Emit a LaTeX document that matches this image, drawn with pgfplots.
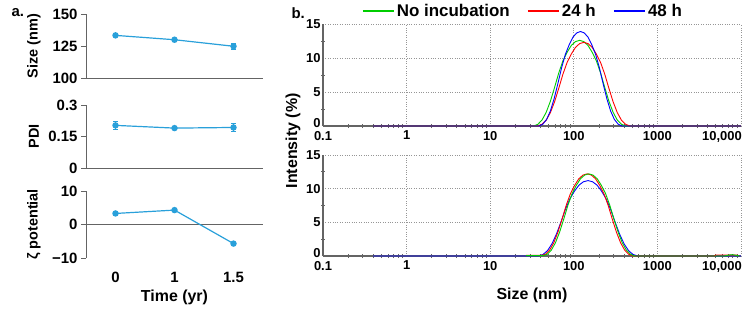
\documentclass[border=0pt]{standalone}
\usepackage{pgfplots}
\pgfplotsset{compat=1.18}
\usepackage{fontspec}
\setmainfont{Liberation Sans}
\definecolor{ptblue}{RGB}{41,160,218}
\definecolor{cgreen}{RGB}{0,205,0}
\definecolor{cred}{RGB}{255,0,0}
\definecolor{cblue}{RGB}{0,0,255}
\definecolor{axgray}{RGB}{100,100,100}
\definecolor{gridgray}{RGB}{150,150,150}
\newcommand{\fs}[1]{\fontsize{#1}{#1}\selectfont\bfseries}

\pgfplotsset{
  pa/.style={
    scale only axis, width=177bp,
    xmin=-0.5, xmax=2.5,
    axis x line*=bottom, axis y line*=left,
    axis line style={axgray, line width=1bp, -},
    xtick=\empty,
    tick align=outside, major tick length=5bp,
    tick style={axgray, line width=1bp},
    /pgf/number format/assume math mode=true,
    tick label style={font=\fs{15}},
    ylabel style={font=\fs{14.5}, at={(axis description cs:0,0.5)}, anchor=center, yshift=52bp},
    clip=false,
  },
  pser/.style={color=ptblue, line width=1.2bp, mark=*, mark size=2.6bp,
    mark options={fill=ptblue, draw=ptblue},
    error bars/.cd, y dir=both, y explicit,
    error bar style={ptblue, line width=0.8bp},
    error mark options={rotate=90, mark size=2.5bp, ptblue, line width=0.8bp}},
  pb/.style={
    scale only axis, width=418bp,
    xmin=-1, xmax=4, ymin=0, ymax=15,
    axis x line*=bottom, axis y line*=left,
    axis line style={axgray, line width=1.2bp, -},
    grid=major, grid style={dotted, gridgray, line width=0.9bp},
    xtick={-1,0,1,2,3,4},
    xticklabels={0.1,1,10,100,1000,{\hspace*{-38bp}10,000}},
    minor xtick={-0.699,-0.523,-0.398,-0.301,-0.222,-0.155,-0.097,-0.046,
      0.301,0.477,0.602,0.699,0.778,0.845,0.903,0.954,
      1.301,1.477,1.602,1.699,1.778,1.845,1.903,1.954,
      2.301,2.477,2.602,2.699,2.778,2.845,2.903,2.954,
      3.301,3.477,3.602,3.699,3.778,3.845,3.903,3.954},
    ytick={0,5,10,15}, yticklabels={\raisebox{7bp}{0},5,10,15},
    minor ytick={2.5,7.5,12.5},
    tick align=center, major tick length=0bp, minor tick length=4bp,
    tick style={axgray, line width=0.9bp},
    /pgf/number format/assume math mode=true,
    tick label style={font=\fs{13}},
    xticklabel style={yshift=-1.5bp},
    yticklabel style={xshift=1bp},
    clip=false,
  },
  gline/.style={color=cgreen, line width=0.9bp},
  rline/.style={color=cred, line width=0.9bp},
  bline/.style={color=cblue, line width=0.9bp},
}

\begin{document}
\begin{tikzpicture}
\useasboundingbox (0bp,0bp) rectangle (748bp,-310bp);

\node[anchor=west, font=\fs{15}] at (8bp,-13bp) {a.};
\node[anchor=west, font=\fs{15}] at (288bp,-13bp) {b.};

% ---------- Panel a: size ----------
\begin{axis}[pa, at={(86bp,-78bp)}, anchor=south west, height=64bp,
  ymin=100, ymax=150, ytick={100,125,150}, ylabel={Size (nm)}]
\addplot+[pser] coordinates {(0,133.3) +- (0,0.8) (1,129.9) +- (0,0.8) (2,124.8) +- (0,2.2)};
\end{axis}

% ---------- Panel a: PDI ----------
\begin{axis}[pa, at={(86bp,-168bp)}, anchor=south west, height=63bp,
  ymin=0, ymax=0.3, ytick={0,0.15,0.3}, yticklabels={0,0.15,0.3}, ylabel={PDI}]
\addplot+[pser] coordinates {(0,0.203) +- (0,0.018) (1,0.190) +- (0,0.007) (2,0.193) +- (0,0.02)};
\end{axis}

% ---------- Panel a: zeta ----------
\begin{axis}[pa, at={(86bp,-258bp)}, anchor=south west, height=67bp,
  ymin=-10, ymax=10, ytick={-10,0,10}, yticklabels={−10,0,10},
  x axis line style={draw=none},
  xtick={0,1,2}, xticklabels={0,1,1.5},
  major x tick style={draw=none},
  xticklabel style={font=\fs{15}, yshift=-6bp},
  extra y ticks={0}, extra y tick labels={},
  extra y tick style={grid=major, major grid style={axgray, line width=1bp, solid}, tick style={draw=none}},
  ylabel={ζ potential},
  xlabel={Time (yr)},
  xlabel style={font=\fs{16}, at={(axis description cs:0.5,0)}, anchor=center, yshift=-39bp}]
\addplot+[pser] coordinates {(0,3.3) (1,4.3) (2,-5.7)};
\end{axis}

% ---------- Panel b: top ----------
\begin{axis}[pb, at={(323bp,-126bp)}, anchor=south west, height=102bp,
  legend columns=3,
  legend style={draw=none, fill=none, at={(0.478,1.127)}, anchor=center,
    font=\fs{17}, inner sep=0pt,
    /tikz/every even column/.append style={column sep=15bp}},
  legend image code/.code={\draw[#1, line width=2.2bp] (0bp,0bp) -- (31bp,0bp);}]
\addplot[gline] coordinates {(-0.4,0) (1.52,0) (1.57,0.25) (1.62,0.88) (1.67,2.02) (1.72,3.65) (1.77,5.67) (1.82,7.81) (1.87,9.58) (1.92,10.84) (1.97,11.84) (2.02,12.41) (2.07,12.6) (2.12,12.41) (2.17,11.84) (2.22,10.84) (2.27,9.58) (2.32,7.81) (2.37,5.67) (2.42,3.65) (2.47,2.02) (2.52,0.88) (2.57,0.25) (2.62,0) (4,0)};
\addlegendentry{No incubation}
\addplot[rline] coordinates {(-0.4,0) (1.57,0) (1.62,0.25) (1.67,0.86) (1.72,1.97) (1.77,3.57) (1.82,5.54) (1.87,7.63) (1.92,9.35) (1.97,10.58) (2.02,11.56) (2.07,12.12) (2.12,12.3) (2.17,12.12) (2.22,11.56) (2.27,10.58) (2.32,9.35) (2.37,7.63) (2.42,5.54) (2.47,3.57) (2.52,1.97) (2.57,0.86) (2.62,0.25) (2.67,0) (4,0)};
\addlegendentry{24 h}
\addplot[bline] coordinates {(-0.4,0) (1.585,0) (1.63,0.28) (1.675,0.97) (1.72,2.22) (1.765,4.03) (1.81,6.26) (1.855,8.62) (1.90,10.56) (1.945,11.95) (1.99,13.07) (2.035,13.69) (2.08,13.9) (2.125,13.69) (2.17,13.07) (2.215,11.95) (2.26,10.56) (2.305,8.62) (2.35,6.26) (2.395,4.03) (2.44,2.22) (2.485,0.97) (2.53,0.28) (2.575,0) (4,0)};
\addlegendentry{48 h}
\end{axis}

% ---------- Panel b: bottom ----------
\begin{axis}[pb, at={(323bp,-256bp)}, anchor=south west, height=101bp,
  ylabel={Intensity (\%)},
  ylabel style={font=\fs{16}, at={(axis description cs:0,1.14)}, anchor=center, yshift=30bp},
  xlabel={Size (nm)},
  xlabel style={font=\fs{16}, at={(axis description cs:0.5,0)}, anchor=center, yshift=-39bp}]
\addplot[bline] coordinates {(-0.4,0) (1.576,0) (1.63,0.22) (1.684,0.78) (1.738,1.79) (1.792,3.25) (1.846,5.04) (1.90,6.94) (1.954,8.51) (2.008,9.63) (2.062,10.53) (2.116,11.03) (2.17,11.2) (2.224,11.03) (2.278,10.53) (2.332,9.63) (2.386,8.51) (2.44,6.94) (2.494,5.04) (2.548,3.25) (2.602,1.79) (2.656,0.78) (2.71,0.22) (2.764,0) (4,0)};
\addplot[rline] coordinates {(1.43,0.1) (1.61,0.1) (1.66,0.24) (1.71,0.85) (1.76,1.95) (1.81,3.54) (1.86,5.49) (1.91,7.56) (1.96,9.27) (2.01,10.49) (2.06,11.47) (2.11,12.02) (2.16,12.2) (2.21,12.02) (2.26,11.47) (2.31,10.49) (2.36,9.27) (2.41,7.56) (2.46,5.49) (2.51,3.54) (2.56,1.95) (2.61,0.85) (2.66,0.24) (2.71,0) (3.68,0) (3.7,0.15) (3.95,0.15) (3.97,0)};
\addplot[gline] coordinates {(1.43,0.05) (1.63,0.05) (1.68,0.24) (1.73,0.85) (1.78,1.95) (1.83,3.54) (1.88,5.49) (1.93,7.56) (1.98,9.27) (2.03,10.49) (2.08,11.47) (2.13,12.02) (2.18,12.2) (2.23,12.02) (2.28,11.47) (2.33,10.49) (2.38,9.27) (2.43,7.56) (2.48,5.49) (2.53,3.54) (2.58,1.95) (2.63,0.85) (2.68,0.24) (2.73,0) (3.8,0) (3.86,0.15) (3.9,0.2) (3.94,0.1) (3.98,0)};
\end{axis}
\end{tikzpicture}
\end{document}
